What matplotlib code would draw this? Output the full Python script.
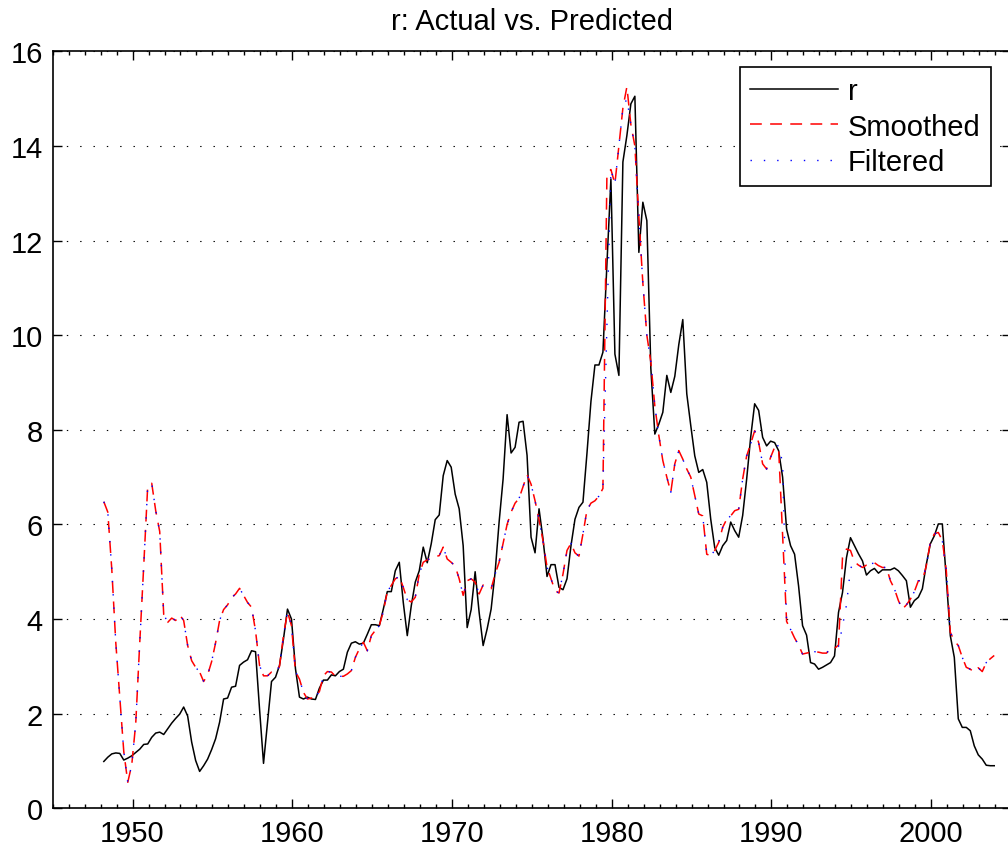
import numpy as np
import matplotlib
matplotlib.use("Agg")
import matplotlib.pyplot as plt
from matplotlib.ticker import MultipleLocator

plt.rcParams['font.family'] = ['Liberation Sans', 'DejaVu Sans']
plt.rcParams['lines.scale_dashes'] = False

# kvartaliniai duomenys, 1948Q1 .. 2003Q4
start_year = 1948.2
step = 0.25

r = [0.99, 1.08, 1.15, 1.17, 1.16, 1.02, 1.06, 1.11,
     1.18, 1.25, 1.35, 1.36, 1.50, 1.59, 1.61, 1.56,
     1.68, 1.80, 1.90, 1.99, 2.14, 1.95, 1.40, 1.01,
     0.78, 0.90, 1.04, 1.24, 1.47, 1.82, 2.31, 2.33,
     2.56, 2.58, 3.02, 3.09, 3.14, 3.33, 3.31, 2.10,
     0.95, 1.82, 2.68, 2.77, 3.02, 3.58, 4.21, 4.00,
     2.95, 2.35, 2.31, 2.35, 2.31, 2.30, 2.54, 2.71,
     2.71, 2.82, 2.80, 2.89, 2.94, 3.30, 3.49, 3.52,
     3.47, 3.49, 3.68, 3.88, 3.88, 3.86, 4.21, 4.58,
     4.58, 5.02, 5.20, 4.35, 3.65, 4.28, 4.78, 5.02,
     5.52, 5.19, 5.59, 6.10, 6.20, 7.03, 7.35, 7.21,
     6.64, 6.33, 5.55, 3.82, 4.20, 5.00, 4.14, 3.44,
     3.79, 4.21, 4.99, 6.05, 6.96, 8.32, 7.51, 7.63,
     8.16, 8.18, 7.46, 5.73, 5.40, 6.33, 5.69, 4.90,
     5.15, 5.15, 4.67, 4.62, 4.85, 5.55, 6.11, 6.36,
     6.47, 7.50, 8.60, 9.37, 9.37, 9.64, 11.50, 13.30,
     9.60, 9.15, 13.66, 14.22, 14.89, 15.05, 11.75, 12.81,
     12.42, 9.30, 7.91, 8.12, 8.37, 9.15, 8.79, 9.13,
     9.80, 10.33, 8.76, 8.09, 7.45, 7.10, 7.16, 6.89,
     6.11, 5.51, 5.35, 5.55, 5.66, 6.05, 5.87, 5.73,
     6.19, 6.96, 7.84, 8.55, 8.41, 7.84, 7.66, 7.76,
     7.73, 7.56, 7.00, 5.90, 5.55, 5.37, 4.70, 3.86,
     3.66, 3.08, 3.05, 2.94, 2.98, 3.03, 3.08, 3.22,
     4.14, 4.56, 5.30, 5.72, 5.55, 5.38, 5.23, 4.93,
     5.02, 5.07, 4.97, 5.04, 5.04, 5.04, 5.08, 5.02,
     4.92, 4.81, 4.25, 4.39, 4.46, 4.64, 5.16, 5.59,
     5.76, 6.01, 6.01, 4.85, 3.65, 3.19, 1.89, 1.71,
     1.71, 1.64, 1.32, 1.13, 1.04, 0.91, 0.90, 0.90]

smoothed = [6.48, 6.26, 5.05, 3.50, 2.35, 1.20, 0.55, 0.92,
            1.80, 3.50, 5.13, 6.82, 6.87, 6.29, 5.85, 4.10,
            3.93, 4.02, 3.97, 4.09, 3.97, 3.44, 3.12, 2.98,
            2.88, 2.68, 2.82, 3.10, 3.50, 3.97, 4.20, 4.30,
            4.45, 4.53, 4.65, 4.50, 4.35, 4.25, 3.75, 3.02,
            2.80, 2.80, 2.88, 2.88, 3.00, 3.65, 4.15, 3.86,
            2.89, 2.73, 2.45, 2.31, 2.33, 2.35, 2.47, 2.80,
            2.89, 2.88, 2.79, 2.79, 2.79, 2.84, 2.91, 3.19,
            3.37, 3.51, 3.33, 3.65, 3.76, 3.86, 4.16, 4.58,
            4.71, 4.85, 4.90, 4.67, 4.41, 4.36, 4.46, 4.95,
            5.20, 5.25, 5.29, 5.32, 5.34, 5.52, 5.27, 5.20,
            5.12, 4.85, 4.50, 4.81, 4.85, 4.78, 4.53, 4.72,
            4.67, 4.64, 4.95, 5.20, 5.60, 6.00, 6.26, 6.45,
            6.55, 6.80, 7.05, 6.85, 6.50, 6.10, 5.65, 5.10,
            4.85, 4.60, 4.55, 4.95, 5.45, 5.60, 5.40, 5.33,
            5.80, 6.30, 6.45, 6.50, 6.60, 6.76, 13.40, 13.50,
            13.20, 14.00, 14.80, 15.25, 14.45, 14.00, 12.50, 11.10,
            10.00, 9.43, 8.50, 7.88, 7.35, 7.00, 6.68, 7.28,
            7.56, 7.38, 7.17, 7.00, 6.61, 6.22, 6.18, 5.37,
            5.34, 5.45, 5.62, 5.94, 6.11, 6.18, 6.29, 6.32,
            6.96, 7.45, 7.70, 7.98, 7.73, 7.28, 7.17, 7.42,
            7.63, 7.60, 5.80, 3.95, 3.78, 3.60, 3.45, 3.26,
            3.28, 3.30, 3.31, 3.30, 3.28, 3.28, 3.38, 3.38,
            3.45, 5.30, 5.48, 5.45, 5.21, 5.14, 5.09, 5.14,
            5.16, 5.19, 5.13, 5.09, 5.09, 4.81, 4.64, 4.39,
            4.21, 4.30, 4.42, 4.58, 4.81, 4.81, 5.13, 5.62,
            5.80, 5.83, 5.66, 5.02, 3.72, 3.54, 3.44, 3.19,
            2.98, 2.94, 2.88, 2.97, 2.89, 3.08, 3.16, 3.23]

filtered = [6.48, 6.26, 5.05, 3.50, 2.35, 1.20, 0.55, 0.92,
            1.80, 3.50, 5.13, 6.82, 6.87, 6.29, 5.85, 4.10,
            3.93, 4.02, 3.97, 4.09, 3.97, 3.44, 3.12, 2.98,
            2.88, 2.68, 2.82, 3.10, 3.50, 3.97, 4.20, 4.30,
            4.45, 4.53, 4.65, 4.50, 4.35, 4.25, 3.75, 3.02,
            2.80, 2.80, 2.88, 2.88, 3.00, 3.65, 4.15, 3.86,
            2.89, 2.73, 2.45, 2.31, 2.33, 2.35, 2.47, 2.80,
            2.89, 2.88, 2.79, 2.79, 2.79, 2.84, 2.91, 3.19,
            3.37, 3.51, 3.33, 3.65, 3.76, 3.86, 4.16, 4.58,
            4.71, 4.85, 4.90, 4.67, 4.41, 4.36, 4.46, 4.95,
            5.20, 5.25, 5.29, 5.32, 5.34, 5.52, 5.27, 5.20,
            5.12, 4.85, 4.50, 4.81, 4.85, 4.78, 4.53, 4.72,
            4.67, 4.64, 4.95, 5.20, 5.60, 6.00, 6.26, 6.45,
            6.55, 6.80, 7.05, 6.85, 6.50, 6.10, 5.65, 5.10,
            4.85, 4.60, 4.55, 4.95, 5.45, 5.60, 5.40, 5.33,
            5.80, 6.30, 6.45, 6.50, 6.60, 6.76, 10.20, 13.50,
            13.20, 14.00, 14.80, 15.00, 14.45, 14.00, 12.50, 11.10,
            10.00, 9.43, 8.50, 7.88, 7.35, 7.00, 6.68, 7.28,
            7.56, 7.38, 7.17, 7.00, 6.61, 6.22, 6.18, 5.37,
            5.34, 5.45, 5.62, 5.94, 6.11, 6.18, 6.29, 6.32,
            6.96, 7.45, 7.70, 7.98, 7.73, 7.28, 7.17, 7.42,
            7.63, 7.67, 7.30, 3.90, 3.78, 3.60, 3.45, 3.26,
            3.28, 3.30, 3.31, 3.30, 3.28, 3.28, 3.38, 3.38,
            3.42, 3.85, 4.30, 5.07, 5.20, 5.14, 5.09, 5.14,
            5.16, 5.19, 5.13, 5.09, 5.09, 4.81, 4.64, 4.39,
            4.21, 4.30, 4.42, 4.58, 4.81, 4.81, 5.13, 5.62,
            5.80, 5.83, 5.66, 5.02, 3.72, 3.54, 3.44, 3.19,
            2.98, 2.94, 2.88, 2.97, 2.89, 3.08, 3.16, 3.23]

t = start_year + step * np.arange(len(r))

fig = plt.figure(figsize=(10.08, 8.54), dpi=100)
ax = fig.add_axes([52.7 / 1008, (854 - 809.3) / 854, 958.3 / 1008, 757 / 854])

ax.plot(t, r, color='k', lw=1.1, label='r')
ax.plot(t, smoothed, color='r', lw=1.1, dashes=(8.5, 6), label='Smoothed')
ax.plot(t, filtered, color='b', lw=1.0, dashes=(1, 8.6), label='Filtered')

ax.set_xlim(1945, 2005)
ax.set_ylim(0, 16)
ax.xaxis.set_major_locator(MultipleLocator(10))
ax.xaxis.set_minor_locator(MultipleLocator(1))
ax.yaxis.set_major_locator(MultipleLocator(2))
ax.tick_params(which='both', direction='in', top=True, right=True, labelsize=21)
ax.tick_params(which='major', length=6.5, width=1)
ax.tick_params(which='minor', length=3, width=1)
ax.tick_params(axis='x', pad=8)
ax.tick_params(axis='y', pad=7)
for s in ax.spines.values():
    s.set_linewidth(1.2)

ax.yaxis.grid(True, color='k', lw=0.8, linestyle=(0, (1, 8.6)))
ax.set_axisbelow(True)

ax.set_title('r: Actual vs. Predicted', fontsize=21, pad=16)

leg = ax.legend(loc='upper right', bbox_to_anchor=(0.979, 0.979), fontsize=21,
                fancybox=False, framealpha=1, edgecolor='k', handlelength=3,
                handletextpad=0.35, borderaxespad=0, labelspacing=0.25, borderpad=0.35)
leg.get_frame().set_linewidth(1.2)

fig.savefig('out.png', dpi=100)
